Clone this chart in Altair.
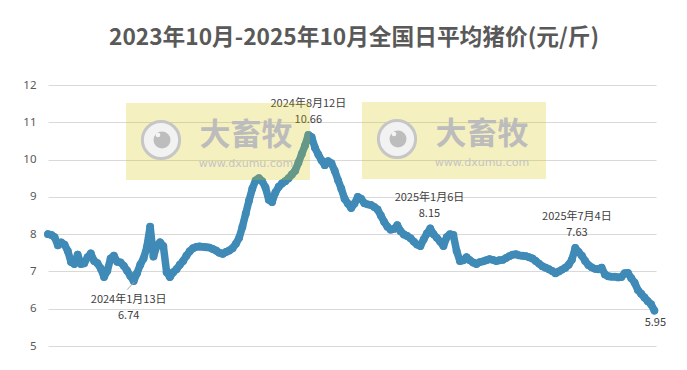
import altair as alt
import pandas as pd

TITLE = "2023年10月-2025年10月全国日平均猪价(元/斤)"

# sampled daily average price (every 4 days), 2023-10-01 .. 2025-10-06
start_date = "2023-10-01"
end_date = "2025-10-06"
prices = [
    8.00, 7.98, 7.92, 7.70, 7.78, 7.72, 7.55, 7.25, 7.20, 7.45,
    7.20, 7.22, 7.38, 7.48, 7.28, 7.22, 7.08, 6.85, 7.02, 7.35,
    7.42, 7.26, 7.24, 7.15, 7.02, 6.88, 6.74, 6.95, 7.18, 7.35,
    7.65, 8.20, 7.40, 7.68, 7.78, 7.68, 6.98, 6.85, 6.98, 7.06,
    7.18, 7.28, 7.42, 7.54, 7.62, 7.66, 7.67, 7.66, 7.65, 7.64,
    7.60, 7.56, 7.50, 7.47, 7.52, 7.56, 7.62, 7.74, 7.90, 8.20,
    8.55, 8.90, 9.22, 9.44, 9.50, 9.42, 9.25, 8.92, 8.86, 9.12,
    9.27, 9.36, 9.42, 9.50, 9.60, 9.70, 9.92, 10.15, 10.38, 10.66,
    10.60, 10.32, 10.14, 9.98, 9.85, 9.96, 9.90, 9.70, 9.45, 9.22,
    8.95, 8.82, 8.70, 8.82, 9.00, 8.95, 8.83, 8.80, 8.78, 8.73,
    8.66, 8.50, 8.33, 8.20, 8.12, 8.14, 8.24, 8.08, 7.99, 7.95,
    7.89, 7.80, 7.72, 7.68, 7.86, 8.02, 8.15, 8.00, 7.90, 7.80,
    7.68, 7.92, 8.00, 7.98, 7.55, 7.28, 7.30, 7.38, 7.30, 7.24,
    7.20, 7.25, 7.27, 7.30, 7.33, 7.31, 7.28, 7.30, 7.31, 7.36,
    7.41, 7.45, 7.46, 7.43, 7.42, 7.41, 7.38, 7.35, 7.28, 7.21,
    7.14, 7.10, 7.06, 7.01, 6.95, 7.00, 7.05, 7.10, 7.18, 7.32,
    7.63, 7.52, 7.42, 7.28, 7.17, 7.11, 7.07, 7.06, 7.10, 6.92,
    6.87, 6.86, 6.86, 6.84, 6.85, 6.95, 6.96, 6.82, 6.70, 6.50,
    6.40, 6.30, 6.20, 6.12, 5.95,
]
dates = pd.date_range(start_date, end_date, freq="4D").strftime("%Y-%m-%d")
df = pd.DataFrame({"date": list(dates)[: len(prices)], "price": prices})

# annotations
ann_dates = ["2024-01-13", "2024-08-12", "2025-01-06", "2025-07-04", "2025-10-06"]
ann_values = [6.74, 10.66, 8.15, 7.63, 5.95]
ann_labels = ["2024年1月13日", "2024年8月12日", "2025年1月6日", "2025年7月4日", ""]
ann_pos = ["below", "above", "above", "above", "end"]
ann = pd.DataFrame({"date": ann_dates, "price": ann_values,
                    "label": ann_labels, "pos": ann_pos})

y_ticks = [5, 6, 7, 8, 9, 10, 11, 12]

BLUE = "#3f8ab6"
TXT = "#404040"
CJK = "Noto Sans CJK SC"

x_scale = alt.Scale(type="utc", domain=[
    alt.DateTime(year=2023, month=10, date=1, utc=True),
    alt.DateTime(year=2025, month=10, date=8, utc=True)])
y_scale = alt.Scale(domain=[5, 12], nice=False, zero=False)
y_axis = alt.Axis(
    values=y_ticks, grid=True, gridColor="#d9d9d9", gridWidth=1,
    domain=False, ticks=False, labelPadding=12, labelFontSize=11.5,
    labelColor="#595959", labelFont="Noto Sans", title=None)

x_enc = alt.X("date:T", scale=x_scale, axis=None)
y_enc = alt.Y("price:Q", scale=y_scale, axis=y_axis)

base = alt.Chart(df)
line = base.mark_line(color=BLUE, strokeWidth=7.5, strokeCap="round",
                      strokeJoin="round").encode(x=x_enc, y=y_enc)
pts = base.mark_circle(color=BLUE, size=62, opacity=1).encode(x=x_enc, y=y_enc)

abase = alt.Chart(ann)

def txt(pos, field, dy, dx=0, fmt=None):
    enc = dict(x=x_enc, y=y_enc)
    if fmt:
        enc["text"] = alt.Text(field, format=fmt)
    else:
        enc["text"] = alt.Text(field)
    return abase.transform_filter(alt.datum.pos == pos).mark_text(
        font=CJK, fontSize=11, color=TXT, dy=dy, dx=dx,
        align="center", baseline="middle").encode(**enc)

ann_layers = [
    txt("above", "label:N", -31),
    txt("above", "price:Q", -15, fmt=".2f"),
    txt("below", "label:N", 19, dx=-5),
    txt("below", "price:Q", 35, dx=-5, fmt=".2f"),
    txt("end", "price:Q", 12, dx=1, fmt=".2f"),
]
leader = abase.transform_filter(alt.datum.pos == "below").mark_point(
    shape="M0.05,0.1L-0.65,0.85", size=400, filled=False,
    stroke="#a6a6a6", strokeWidth=1, opacity=1).encode(x=x_enc, y=y_enc)

one = alt.Chart(pd.DataFrame({"k": [0]}))

def watermark(x0, y0):
    box = one.mark_rect(color="#d7c300", opacity=0.25).encode(
        x=alt.value(x0), x2=alt.value(x0 + 184),
        y=alt.value(y0), y2=alt.value(y0 + 77))
    ring = one.mark_circle(fill="#f2f2f2", stroke="#c6c6c6", strokeWidth=3,
                           opacity=1, size=1385).encode(
        x=alt.value(x0 + 35), y=alt.value(y0 + 37))
    eye = one.mark_circle(color="#bdbdbd", opacity=1, size=290).encode(
        x=alt.value(x0 + 36), y=alt.value(y0 + 37))
    hi = one.mark_circle(color="#f4f4f4", opacity=1, size=22).encode(
        x=alt.value(x0 + 32), y=alt.value(y0 + 32))
    name = one.mark_text(text="大畜牧", font=CJK, fontSize=31, fontWeight="bold",
                         color="#bcbcbc", align="center",
                         baseline="middle").encode(
        x=alt.value(x0 + 120), y=alt.value(y0 + 33))
    url = one.mark_text(text="www.dxumu.com", font="DejaVu Sans", fontSize=11,
                        color="#c4c4c4", align="center",
                        baseline="middle").encode(
        x=alt.value(x0 + 120), y=alt.value(y0 + 61))
    return [box, ring, eye, hi, name, url]

title = one.mark_text(text=TITLE, font=CJK, fontSize=22.7, fontWeight="bold",
                      color="#595959", align="center",
                      baseline="middle").encode(
    x=alt.value(306), y=alt.value(-47))

chart = alt.layer(
    line, pts, leader, *ann_layers,
    *watermark(78, 18), *watermark(314, 17),
    title,
).properties(
    width=608, height=261,
    autosize=alt.AutoSizeParams(type="none"),
    padding={"left": 40, "top": 77, "right": 23, "bottom": 16},
).configure_view(stroke=None)

chart.save("out.html", embed_options={"renderer": "svg", "actions": False})
